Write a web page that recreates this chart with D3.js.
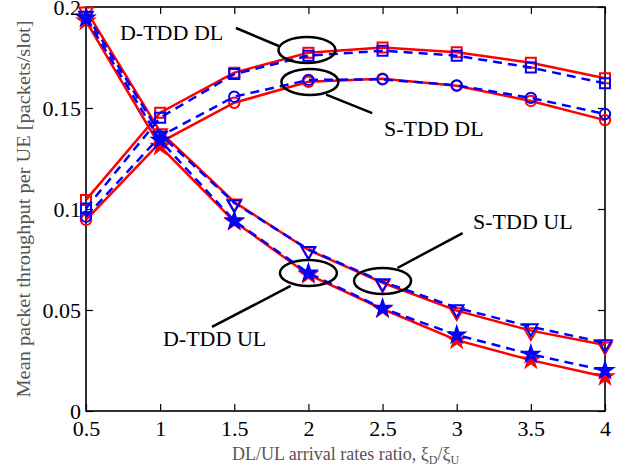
<!DOCTYPE html>
<html>
<head>
<meta charset="utf-8">
<script src="https://cdn.jsdelivr.net/npm/d3@7"></script>
<style>
  body { margin: 0; background: #fff; }
  svg { display: block; }
</style>
</head>
<body>
<div id="chart"></div>
<script>
// arrival-rate ratios on the x axis
const ratios = [0.5, 1, 1.5, 2, 2.5, 3, 3.5, 4];

// throughput values (red = solid, blue = dashed)
const dtddDlRed  = [0.1045, 0.1477, 0.1675, 0.1774, 0.1800, 0.1776, 0.1724, 0.1647];
const dtddDlBlue = [0.1003, 0.1452, 0.1668, 0.1759, 0.1784, 0.1759, 0.1700, 0.1622];
const stddDlRed  = [0.0946, 0.1330, 0.1526, 0.1630, 0.1645, 0.1610, 0.1535, 0.1440];
const stddDlBlue = [0.0962, 0.1360, 0.1556, 0.1639, 0.1642, 0.1612, 0.1550, 0.1470];
const stddUlRed  = [0.1985, 0.1383, 0.1035, 0.0797, 0.0635, 0.0497, 0.0398, 0.0327];
const stddUlBlue = [0.1965, 0.1370, 0.1030, 0.0800, 0.0640, 0.0511, 0.0417, 0.0338];
const dtddUlRed  = [0.1930, 0.1310, 0.0938, 0.0675, 0.0505, 0.0351, 0.0252, 0.0170];
const dtddUlBlue = [0.1945, 0.1340, 0.0942, 0.0683, 0.0508, 0.0376, 0.0281, 0.0200];

const xTicks = [0.5, 1, 1.5, 2, 2.5, 3, 3.5, 4];
const yTicks = [0, 0.05, 0.1, 0.15, 0.2];

// callouts: ellipse centre, leader line, label position (data units)
const callouts = [
  {label: "D-TDD DL", cx: 1.99, cy: 0.1787, line: [[1.511, 0.1896], [1.80, 0.1807]], tx: 0.729, ty: 0.1835},
  {label: "S-TDD DL", cx: 2.01, cy: 0.1629, line: [[2.12, 0.1566], [2.43, 0.1475]], tx: 2.51, ty: 0.1361},
  {label: "S-TDD UL", cx: 2.50, cy: 0.0644, line: [[2.60, 0.0708], [3.04, 0.0881]], tx: 3.11, ty: 0.0901},
  {label: "D-TDD UL", cx: 2.00, cy: 0.0683, line: [[1.88, 0.0619], [1.35, 0.0416]], tx: 1.019, ty: 0.0322}
];

const series = [
  {values: dtddDlRed,  color: "red",  dash: null, marker: "square"},
  {values: stddDlRed,  color: "red",  dash: null, marker: "circle"},
  {values: stddUlRed,  color: "red",  dash: null, marker: "triangle"},
  {values: dtddUlRed,  color: "red",  dash: null, marker: "star"},
  {values: dtddDlBlue, color: "blue", dash: "9,6", marker: "square"},
  {values: stddDlBlue, color: "blue", dash: "9,6", marker: "circle"},
  {values: stddUlBlue, color: "blue", dash: "9,6", marker: "triangle"},
  {values: dtddUlBlue, color: "blue", dash: "9,6", marker: "star"}
];

const size = {width: 623, height: 467};
const margin = {top: 7, right: 18, bottom: 56, left: 86};
const width = size.width - margin.left - margin.right;
const height = size.height - margin.top - margin.bottom;

const svg = d3.select("#chart").append("svg")
    .attr("width", size.width)
    .attr("height", size.height);

const g = svg.append("g")
    .attr("transform", "translate(" + margin.left + "," + margin.top + ")");

const xScale = d3.scaleLinear().domain([0.5, 4]).range([0, width]);
const yScale = d3.scaleLinear().domain([0, 0.2]).range([height, 0]);

const tickFont = "'Liberation Serif', 'Times New Roman', serif";

// axes, ticks pointing inwards on all four sides
g.append("g")
    .attr("transform", "translate(0," + height + ")")
    .call(d3.axisBottom(xScale).tickValues(xTicks).tickFormat(d3.format("")).tickSizeInner(-7).tickSizeOuter(0).tickPadding(9));
g.append("g")
    .call(d3.axisTop(xScale).tickValues(xTicks).tickFormat("").tickSizeInner(-7).tickSizeOuter(0));
g.append("g")
    .call(d3.axisLeft(yScale).tickValues(yTicks).tickFormat(d3.format("")).tickSizeInner(-7).tickSizeOuter(0).tickPadding(5));
g.append("g")
    .attr("transform", "translate(" + width + ",0)")
    .call(d3.axisRight(yScale).tickValues(yTicks).tickFormat("").tickSizeInner(-7).tickSizeOuter(0));

g.selectAll(".domain").remove();
g.selectAll(".tick line").attr("stroke", "#000").attr("stroke-width", 1.2);
g.selectAll(".tick text")
    .style("font-family", tickFont)
    .style("font-size", "22px")
    .attr("fill", "#000");

g.append("rect")
    .attr("width", width)
    .attr("height", height)
    .attr("fill", "none")
    .attr("stroke", "#000")
    .attr("stroke-width", 1.6);

// axis titles
svg.append("text")
    .attr("x", margin.left + width / 2)
    .attr("y", 460)
    .attr("text-anchor", "middle")
    .style("font-family", tickFont)
    .style("font-size", "18px")
    .attr("fill", "#555")
    .call(t => {
        t.append("tspan").text("DL/UL arrival rates ratio, ξ");
        t.append("tspan").attr("dy", 4).style("font-size", "12px").text("D");
        t.append("tspan").attr("dy", -4).text("/ξ");
        t.append("tspan").attr("dy", 4).style("font-size", "12px").text("U");
    });

svg.append("text")
    .attr("transform", "translate(30," + (margin.top + height / 2) + ") rotate(-90)")
    .attr("text-anchor", "middle")
    .style("font-family", tickFont)
    .style("font-size", "18px")
    .attr("fill", "#555")
    .attr("textLength", 377)
    .attr("lengthAdjust", "spacingAndGlyphs")
    .text("Mean packet throughput per UE [packets/slot]");

// lines and markers
const line = d3.line()
    .x((d, i) => xScale(ratios[i]))
    .y(d => yScale(d));

const symbolFor = {
    square: d3.symbol().type(d3.symbolSquare).size(100),
    circle: d3.symbol().type(d3.symbolCircle).size(85),
    triangle: d3.symbol().type(d3.symbolTriangle).size(80),
    star: d3.symbol().type(d3.symbolStar).size(75)
};

series.forEach(s => {
    g.append("path")
        .datum(s.values)
        .attr("d", line)
        .attr("fill", "none")
        .attr("stroke", s.color)
        .attr("stroke-width", 2.5)
        .attr("stroke-dasharray", s.dash);

    g.selectAll(null)
        .data(s.values)
        .join("path")
        .attr("transform", (d, i) => "translate(" + xScale(ratios[i]) + "," + yScale(d) + ")" + (s.marker === "triangle" ? " rotate(180) translate(0,-1.5)" : ""))
        .attr("d", symbolFor[s.marker])
        .attr("fill", s.marker === "star" ? s.color : "none")
        .attr("stroke", s.color)
        .attr("stroke-width", 2);
});

// callout ellipses, leader lines and labels
const notes = g.selectAll(".note")
    .data(callouts)
    .join("g")
    .attr("class", "note");

notes.append("ellipse")
    .attr("cx", d => xScale(d.cx))
    .attr("cy", d => yScale(d.cy))
    .attr("rx", 28.5)
    .attr("ry", 13)
    .attr("fill", "none")
    .attr("stroke", "#000")
    .attr("stroke-width", 2.5);

notes.append("line")
    .attr("x1", d => xScale(d.line[0][0]))
    .attr("y1", d => yScale(d.line[0][1]))
    .attr("x2", d => xScale(d.line[1][0]))
    .attr("y2", d => yScale(d.line[1][1]))
    .attr("stroke", "#000")
    .attr("stroke-width", 2.5);

notes.append("text")
    .attr("x", d => xScale(d.tx))
    .attr("y", d => yScale(d.ty))
    .style("font-family", tickFont)
    .style("font-size", "22px")
    .attr("fill", "#000")
    .text(d => d.label);
</script>
</body>
</html>
